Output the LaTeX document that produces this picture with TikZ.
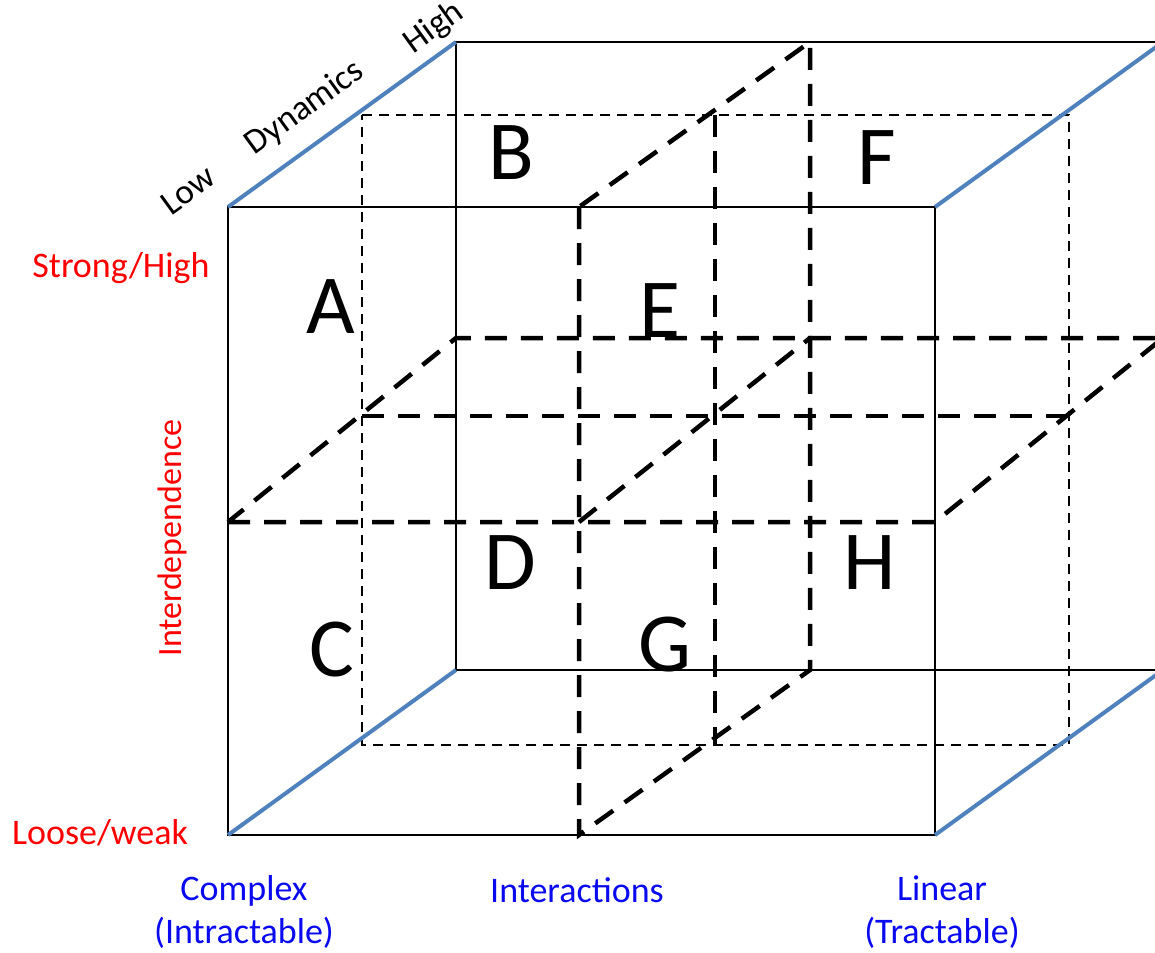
\documentclass[tikz,border=0pt]{standalone}
\usepackage{fontspec}
\setmainfont{Carlito}
\usetikzlibrary{calc}
\definecolor{edgeblue}{RGB}{79,129,189}
\definecolor{axisred}{RGB}{255,0,0}
\definecolor{axisblue}{RGB}{10,10,240}

\begin{document}
\begin{tikzpicture}[x=1pt, y=-1pt,
    edge/.style={line width=1.6pt, black},
    thinplane/.style={line width=1.3pt, dash pattern=on 10pt off 7pt},
    cutplane/.style={line width=4.5pt, dash pattern=on 22pt off 14pt},
    depth/.style={line width=4pt, edgeblue},
    cell/.style={font=\fontsize{84}{84}\selectfont, inner sep=0pt},
    dynlabel/.style={font=\fontsize{35}{35}\selectfont, rotate=35.9, inner sep=0pt},
    redlabel/.style={axisred, font=\fontsize{36}{36}\selectfont, inner sep=0pt},
    bluelabel/.style={axisblue, font=\fontsize{36}{43}\selectfont, align=center, inner sep=0pt}]
  \useasboundingbox (0,0) rectangle (1155,952);
  \clip (0,0) rectangle (1155,952);
  % corners of the cube
  \coordinate (f1) at (228,207); \coordinate (f2) at (935,207);
  \coordinate (f3) at (935,835); \coordinate (f4) at (228,835);
  \coordinate (b1) at (456,42);  \coordinate (b2) at (1163,42);
  \coordinate (b3) at (1163,670); \coordinate (b4) at (456,670);
  \coordinate (m1) at (362,115); \coordinate (m2) at (1069,115);
  \coordinate (m3) at (1069,745); \coordinate (m4) at (362,745);
  % cut planes
  \coordinate (hf1) at (228,522); \coordinate (hf2) at (935,522);
  \coordinate (hb1) at (456,338); \coordinate (hb2) at (1163,338);
  \coordinate (hm1) at (362,416); \coordinate (hm2) at (1069,416);
  \coordinate (vf1) at (579,207); \coordinate (vf2) at (579,835);
  \coordinate (vb1) at (810,42);  \coordinate (vb2) at (810,670);
  \coordinate (vm1) at (715,115); \coordinate (vm2) at (715,745);
  \coordinate (vh1) at (579,522); \coordinate (vh2) at (810,338);

  % Faces
  \draw[edge] (f1) -- (f2) -- (f3) -- (f4) -- cycle;
  \draw[edge] (b1) -- (b2) -- (b3) -- (b4) -- cycle;
  \draw[thinplane] (m1) -- (m2) -- (m3) -- (m4) -- cycle;

  % Plans de coupe
  \draw[cutplane] (hf1) -- (hf2) -- (hb2) -- (hb1) -- cycle;
  \draw[cutplane] (hm1) -- (hm2);
  \draw[cutplane] (vf1) -- (vf2) -- (vb2) -- (vb1) -- cycle;
  \draw[cutplane] (vm1) -- (vm2);
  \draw[cutplane] (vh1) -- (vh2);

  % Axe dynamique
  \draw[depth] (f1) -- (b1);
  \draw[depth] (f2) -- (b2);
  \draw[depth] (f4) -- (b4);
  \draw[depth] (f3) -- (b3);

  % Cellules
  \node[cell] (cA) at (331,307) {A};
  \node[cell] (cB) at (511,153) {B};
  \node[cell] (cC) at (332,650) {C};
  \node[cell] (cD) at (510,563) {D};
  \node[cell] (cE) at (660,311) {E};
  \node[cell] (cF) at (877,158) {F};
  \node[cell] (cG) at (665,645) {G};
  \node[cell] (cH) at (870,563) {H};

  % Axes
  \node[dynlabel] (low) at (188,190) {Low};
  \node[dynlabel] (dyn) at (305,108) {Dynamics};
  \node[dynlabel] (high) at (434,28) {High};
  \node[redlabel] (strong) at (121,268) {Strong/High};
  \node[redlabel] (loose) at (100,833) {Loose/weak};
  \node[redlabel, font=\fontsize{34}{34}\selectfont, rotate=90] (inter) at (172,538) {Interdependence};
  \node[bluelabel] (cplx) at (244,912) {Complex\\(Intractable)};
  \node[bluelabel] (actions) at (577,890) {Interactions};
  \node[bluelabel] (lin) at (942,912) {Linear\\(Tractable)};
\end{tikzpicture}
\end{document}
